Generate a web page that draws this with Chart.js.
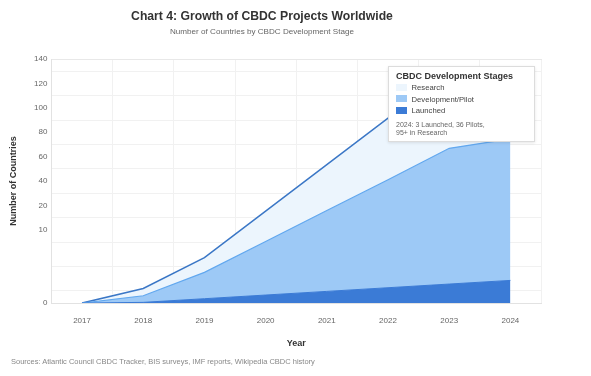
<!DOCTYPE html>
<html>
<head>
<meta charset="utf-8">
<script src="https://cdn.jsdelivr.net/npm/chart.js@4.4.1/dist/chart.umd.min.js"></script>
<style>
  html, body { margin: 0; padding: 0; background: #ffffff; }
  #wrap { position: relative; width: 591px; height: 376px; font-family: 'Liberation Sans', Arial, Helvetica, sans-serif; }
  #chart { position: absolute; left: 0; top: 0; }
  #title { position: absolute; left: 0; width: 524px; top: 8px; text-align: center; font-size: 12.2px; font-weight: bold; color: #333; line-height: 16px; white-space: nowrap; }
  #subtitle { position: absolute; left: 0; width: 524px; top: 27px; text-align: center; font-size: 8.1px; color: #666; line-height: 10px; white-space: nowrap; }
  #legend { position: absolute; left: 388px; top: 66px; width: 147px; height: 76px; box-sizing: border-box;
            background: #ffffff; border: 1px solid #dcdcdc; box-shadow: 0 1px 3px rgba(0,0,0,0.10); padding: 4px 7px 0 7px; }
  #legend .ttl { font-size: 9px; font-weight: bold; color: #333; line-height: 11px; height: 11px; white-space: nowrap; }
  #legend .item { font-size: 7.7px; color: #444; line-height: 11.7px; height: 11.7px; white-space: nowrap; }
  #legend .sw { display: inline-block; width: 11px; height: 7px; vertical-align: -0.5px; margin-right: 4.5px; }
  #legend .note { font-size: 7px; color: #666; line-height: 8.7px; margin-top: 3.5px; }
  #source { position: absolute; left: 11px; top: 357px; font-size: 7.5px; color: #888; white-space: nowrap; }
</style>
</head>
<body>
<div id="wrap">
  <canvas id="chart" width="591" height="376"></canvas>
  <div id="title">Chart 4: Growth of CBDC Projects Worldwide</div>
  <div id="subtitle">Number of Countries by CBDC Development Stage</div>
  <div id="legend"></div>
  <div id="source">Sources: Atlantic Council CBDC Tracker, BIS surveys, IMF reports, Wikipedia CBDC history</div>
</div>
<script>
// ---- data ----
const YEARS = ['2017', '2018', '2019', '2020', '2021', '2022', '2023', '2024'];
const LAUNCHED = [0, 0.1, 0.6, 1.1, 1.6, 2.1, 2.6, 3.1];
const PILOT = [0, 0.9, 3.6, 7.3, 16.3, 38.9, 64.2, 71.5];
const RESEARCH = [0, 1.0, 2.0, 9.3, 35.5, 50.6, 53.2, 53.4];
// y-axis ticks (evenly spaced on the axis) and their labels
const Y_TICKS = [0, 10 / 3, 20 / 3, 10, 20, 40, 60, 80, 100, 120, 140];
const Y_TICK_LABELS = ['0', '', '', '10', '20', '40', '60', '80', '100', '120', '140'];
const LEGEND_TITLE = 'CBDC Development Stages';
const LEGEND_NOTE = ['2024: 3 Launched, 36 Pilots,', '95+ in Research'];

const FONT = "'Liberation Sans', Arial, Helvetica, sans-serif";

// Axis whose ticks sit at equal spacing; values are placed piecewise-linearly between ticks
function tickPosition(v) {
  const t = Y_TICKS;
  if (v <= t[0]) return 0;
  for (let i = 1; i < t.length; i++) {
    if (v <= t[i]) return (i - 1) + (v - t[i - 1]) / (t[i] - t[i - 1]);
  }
  const n = t.length - 1;
  return n + (v - t[n]) / (t[n] - t[n - 1]);
}
function valueAtPosition(p) {
  const t = Y_TICKS;
  const n = t.length - 1;
  if (p <= 0) return t[0];
  if (p >= n) return t[n] + (p - n) * (t[n] - t[n - 1]);
  const i = Math.floor(p);
  return t[i] + (p - i) * (t[i + 1] - t[i]);
}
class TickStepScale extends Chart.LinearScale {
  static id = 'tickstep';
  static defaults = {};
  buildTicks() {
    this.start = this.min;
    this.end = this.max;
    return Y_TICKS.map(v => ({ value: v }));
  }
  getPixelForValue(value) {
    if (value === null || value === undefined || isNaN(value)) return NaN;
    return this.getPixelForDecimal(tickPosition(value) / (Y_TICKS.length - 1));
  }
  getValueForPixel(pixel) {
    return valueAtPosition(this.getDecimalForPixel(pixel) * (Y_TICKS.length - 1));
  }
}
Chart.register(TickStepScale);

const chart = new Chart(document.getElementById('chart'), {
  type: 'line',
  data: {
    labels: YEARS,
    datasets: [
      { label: 'Launched', data: LAUNCHED, backgroundColor: '#3b7bd6', borderColor: '#3b7bd6', borderWidth: 1, fill: 'origin' },
      { label: 'Development/Pilot', data: PILOT, backgroundColor: '#9dc9f6', borderColor: '#62a8ef', borderWidth: 1.2, fill: '-1' },
      { label: 'Research', data: RESEARCH, backgroundColor: '#ecf5fd', borderColor: '#3b77c6', borderWidth: 1.5, fill: '-1' }
    ]
  },
  options: {
    responsive: false,
    animation: false,
    devicePixelRatio: 1,
    layout: { padding: { left: 4, right: 50, top: 59, bottom: 27.5 } },
    elements: { point: { radius: 0, hoverRadius: 0 }, line: { tension: 0 } },
    plugins: {
      legend: { display: false },
      tooltip: { enabled: false },
      title: { display: false },
      subtitle: { display: false }
    },
    scales: {
      x: {
        type: 'category', offset: true,
        grid: { offset: true, color: '#f1f1f1', drawTicks: true, tickLength: 13, tickColor: 'rgba(0,0,0,0)' },
        border: { color: '#e2e2e2' },
        ticks: { color: '#666', font: { size: 8, family: FONT }, padding: 0 },
        title: { display: true, text: 'Year', color: '#333', font: { size: 9, weight: 'bold', family: FONT }, padding: { top: 12, bottom: 0 } }
      },
      xTop: {
        type: 'category', position: 'top', offset: true,
        grid: { display: false, drawTicks: false },
        border: { display: true, color: '#e8e8e8' },
        ticks: { display: false }
      },
      y: {
        type: 'tickstep', stacked: true, min: 0, max: 140,
        grid: { offset: true, color: '#f1f1f1', drawTicks: false },
        border: { color: '#e2e2e2' },
        ticks: { color: '#666', font: { size: 8, family: FONT }, padding: 4, autoSkip: false,
                 callback: (v, i) => Y_TICK_LABELS[i] },
        title: { display: true, text: 'Number of Countries', color: '#333', font: { size: 9, weight: 'bold', family: FONT }, padding: { top: 4, bottom: 11.3 } }
      }
    }
  }
});

// HTML legend built from the datasets
(function buildLegend() {
  const el = document.getElementById('legend');
  let html = '<div class="ttl">' + LEGEND_TITLE + '</div>';
  const ds = chart.data.datasets.slice().reverse();
  ds.forEach(d => {
    html += '<div class="item"><span class="sw" style="background:' + d.backgroundColor + '"></span>' + d.label + '</div>';
  });
  html += '<div class="note">' + LEGEND_NOTE.join('<br>') + '</div>';
  el.innerHTML = html;
})();
</script>
</body>
</html>
